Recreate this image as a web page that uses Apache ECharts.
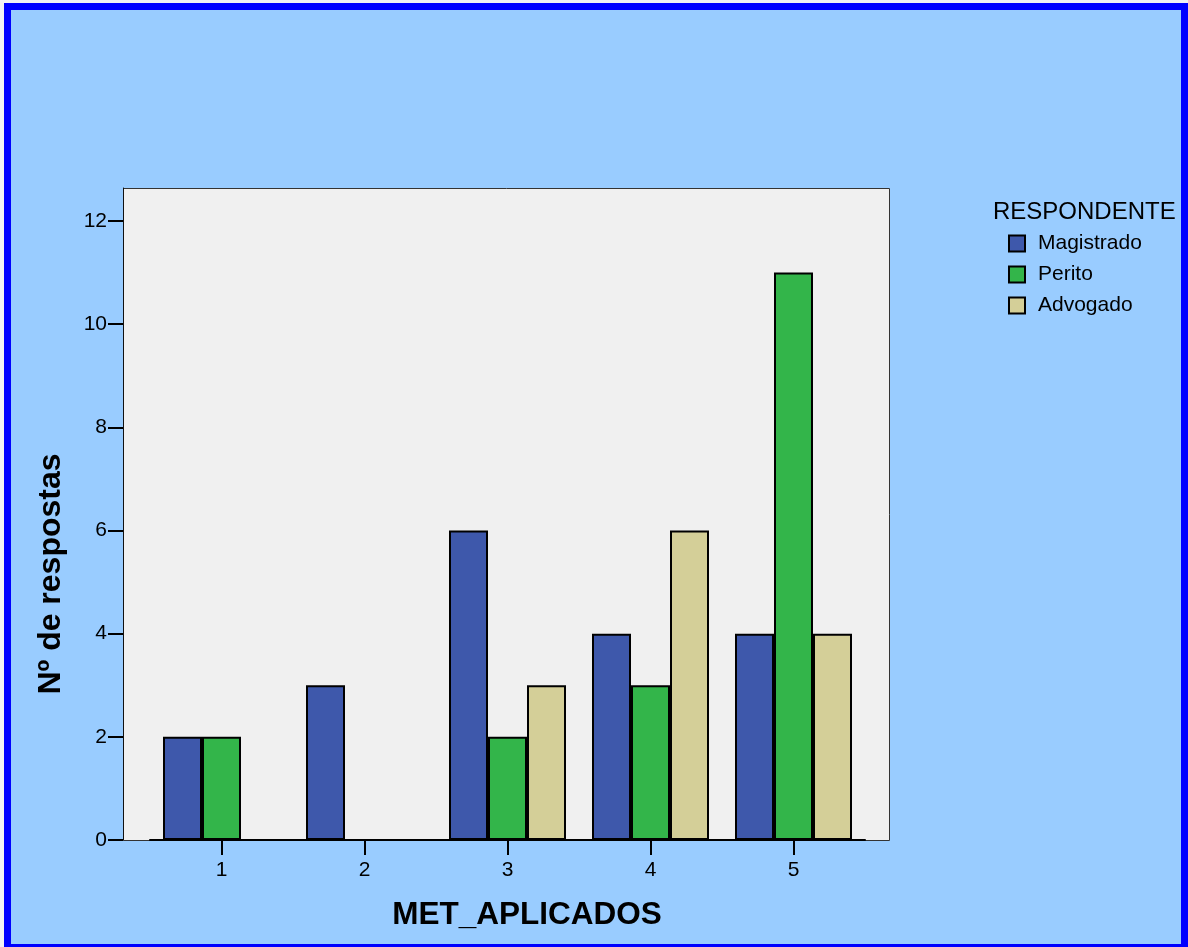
<!DOCTYPE html>
<html>
<head>
<meta charset="utf-8">
<script src="https://cdn.jsdelivr.net/npm/echarts@6/dist/echarts.min.js"></script>
<style>
  html, body { margin: 0; padding: 0; width: 1188px; height: 947px; overflow: hidden; background: #f2f2f4; }
  #frame { position: absolute; left: 4px; top: 3px; width: 1184px; height: 948px; box-sizing: border-box;
           border: 7px solid #0000ff; background: #99ccff; }
  #chart { position: absolute; left: 0; top: 0; width: 1188px; height: 947px; }
</style>
</head>
<body>
<div id="frame"></div>
<div id="chart"></div>
<script>
// Number of answers per applied method, by respondent group
const categories = ['1', '2', '3', '4', '5'];
const magistrado = [2, 3, 6, 4, 4];
const perito     = [2, 0, 2, 3, 11];
const advogado   = [0, 0, 3, 6, 4];
const yTicks     = [0, 2, 4, 6, 8, 10, 12];

const FONT = 'Liberation Sans, Arial, sans-serif';
const colors = { Magistrado: '#3e58ab', Perito: '#33b54a', Advogado: '#d4cf98' };

// empty cells are left blank instead of drawing a flat bar
const blankZeros = arr => arr.map(v => (v === 0 ? '-' : v));

const chart = echarts.init(document.getElementById('chart'));

function barSeries(name, values) {
  return {
    name: name,
    type: 'bar',
    data: blankZeros(values),
    barWidth: 39,
    barGap: '0%',
    itemStyle: { color: colors[name], borderColor: '#000', borderWidth: 2 },
    z: 3
  };
}

chart.setOption({
  backgroundColor: 'transparent',
  animation: false,
  textStyle: { fontFamily: FONT },
  grid: { left: 150, right: 323, top: 188, bottom: 107, containLabel: false },
  xAxis: {
    type: 'category',
    data: categories,
    axisLine: { show: true, lineStyle: { color: '#000', width: 2 } },
    axisTick: { show: true, alignWithLabel: true, length: 15, lineStyle: { color: '#000', width: 2 } },
    axisLabel: { color: '#000', fontSize: 21, fontFamily: FONT, margin: 20 },
    splitLine: { show: false }
  },
  yAxis: {
    type: 'value',
    min: 0,
    max: 12.64,
    interval: 2,
    offset: 27,
    axisLine: { show: true, lineStyle: { color: '#111', width: 1 } },
    axisTick: { show: true, length: 15, customValues: yTicks, lineStyle: { color: '#000', width: 2 } },
    axisLabel: { color: '#000', fontSize: 21, fontFamily: FONT, margin: 16, customValues: yTicks },
    splitLine: { show: false }
  },
  legend: {
    orient: 'vertical',
    left: 1008,
    top: 233,
    padding: 0,
    itemWidth: 16,
    itemHeight: 16,
    itemGap: 10,
    icon: 'rect',
    selectedMode: false,
    textStyle: { color: '#000', fontSize: 21, fontFamily: FONT, lineHeight: 20, padding: [0, 0, 0, 8] },
    data: ['Magistrado', 'Perito', 'Advogado']
  },
  graphic: [
    {
      // plot panel behind the bars
      type: 'rect',
      z: -10,
      shape: { x: 123.5, y: 188.5, width: 766, height: 652 },
      style: { fill: '#f0f0f0', stroke: '#333', lineWidth: 1 }
    },
    {
      type: 'text',
      left: 993, top: 200,
      style: { text: 'RESPONDENTE', fill: '#000', font: '24px ' + FONT }
    },
    {
      type: 'text',
      x: 527, y: 915,
      style: { text: 'MET_APLICADOS', fill: '#000', font: 'bold 31.5px ' + FONT, align: 'center', verticalAlign: 'middle' }
    },
    {
      type: 'text',
      x: 51, y: 574,
      rotation: Math.PI / 2,
      style: { text: 'Nº de respostas', fill: '#000', font: 'bold 32px ' + FONT, align: 'center', verticalAlign: 'middle' }
    }
  ],
  series: [
    barSeries('Magistrado', magistrado),
    barSeries('Perito', perito),
    barSeries('Advogado', advogado)
  ]
});
</script>
</body>
</html>
